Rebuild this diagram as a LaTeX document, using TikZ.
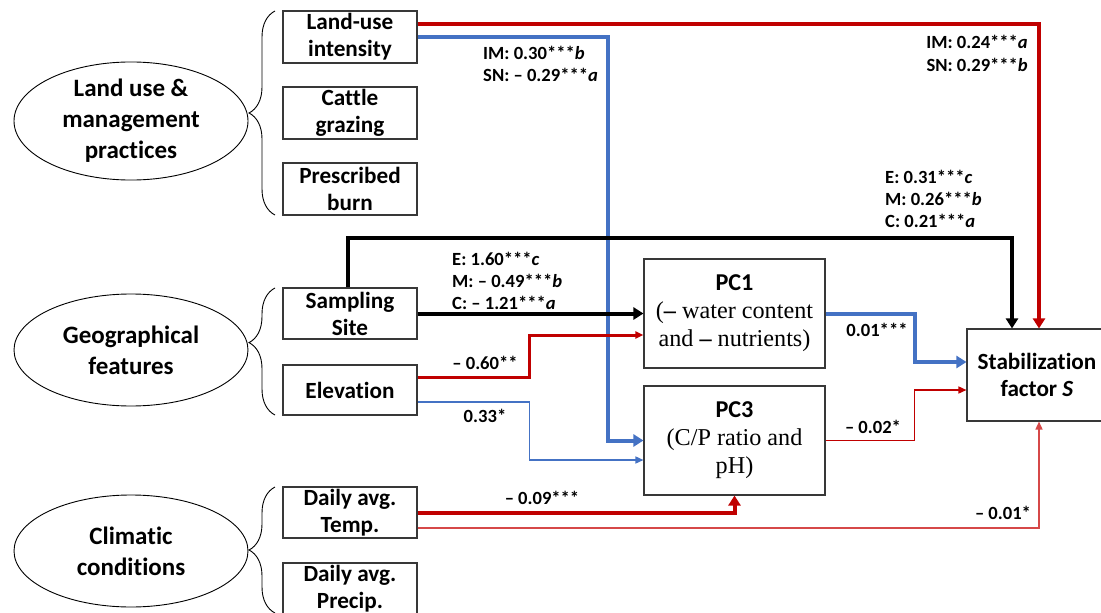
\documentclass[tikz,border=0pt]{standalone}
\usepackage{fontspec}
\setmainfont{Carlito}[Ligatures=NoCommon]
\newfontfamily\pcserif{Liberation Serif}
\usetikzlibrary{arrows.meta,decorations.pathreplacing,shapes.geometric}

\definecolor{pathred}{HTML}{C00000}
\definecolor{pathblue}{HTML}{4472C4}
\definecolor{softred}{HTML}{D64848}
\definecolor{boxline}{HTML}{383838}

\newcommand\varfont{\fontsize{23.2}{27}\selectfont\bfseries}
\newcommand\groupfont{\fontsize{25}{31}\selectfont\bfseries}
\newcommand\coeffont{\fontsize{18.6}{22.3}\selectfont\bfseries}
\newcommand\pcfont{\fontsize{24.2}{28}\selectfont}
\newcommand\bolddash{{\bfseries –}}

\begin{document}
\begin{tikzpicture}[x=1pt,y=-1pt,
  varbox/.style={draw=boxline,line width=1.1pt,minimum width=134pt,minimum height=52pt,
    inner sep=0pt,align=center,font=\varfont},
  pcbox/.style={draw=boxline,line width=1.1pt,minimum width=181pt,minimum height=109pt,
    inner sep=0pt,align=center,font=\pcfont},
  group/.style={ellipse,draw=black,line width=0.9pt,minimum width=234pt,minimum height=112pt,
    inner sep=0pt,align=center,font=\groupfont},
  bracket/.style={draw=black,line width=0.9pt,decorate,decoration={brace,amplitude=26pt}},
  coef/.style={inner sep=0pt,font=\coeffont},
  bigtip/.style={-{Triangle[length=10pt,width=12pt]}},
  smalltip/.style={-{Triangle[length=8pt,width=7pt]}},
  heavy/.style={line width=4pt},
  medium/.style={line width=3pt},
  light/.style={line width=1.5pt}]

\useasboundingbox (0,0) rectangle (1101,613);

% --- factor groups ---
\node[group,minimum height=118pt] (landuse) at (131,121) {Land use \&\\management\\practices};
\node[group] (geo) at (131,350) {Geographical\\features};
\node[group] (clim) at (131,551) {Climatic\\conditions};

\draw[bracket] (275,215) -- (275,11);
\draw[bracket,decoration={brace,amplitude=26pt,aspect=0.57}] (275,415) -- (275,288);
\draw[bracket] (275,613) -- (275,487);

% --- explanatory variables ---
\node[varbox] (lui) at (350,37) {Land-use\\intensity};
\node[varbox] (cattle) at (350,113) {Cattle\\grazing};
\node[varbox] (burn) at (350,189) {Prescribed\\burn};
\node[varbox,minimum height=51pt] (site) at (350,313.5) {Sampling\\Site};
\node[varbox,minimum height=50pt] (elev) at (350,390) {Elevation};
\node[varbox,minimum height=51pt] (temp) at (350,512.5) {Daily avg.\\Temp.};
\node[varbox] (precip) at (350,589) {Daily avg.\\Precip.};

% --- principal components and response ---
\node[pcbox] (pc1) at (734.5,313.5) {{\bfseries PC1}\\{\pcserif (\bolddash{} water content}\\{\pcserif and \bolddash{} nutrients)}};
\node[pcbox] (pc3) at (734.5,440.5) {{\bfseries PC3}\\{\pcserif (C/P ratio and}\\{\pcserif pH)}};
\node[draw=boxline,line width=1.1pt,minimum width=140pt,minimum height=92pt,inner sep=0pt,
  align=center,font=\varfont] (stab) at (1037,375) {Stabilization\\factor \textit{S}};

% --- paths to the stabilization factor and components ---
\draw[pathred,heavy,bigtip] ([yshift=13pt]lui.east) -| ([xshift=2pt]stab.north);
\draw[pathblue,heavy,bigtip] (lui.east) -| ([xshift=-35pt]pc3.west) -- (pc3.west);
\draw[black,heavy,bigtip] ([xshift=-2pt]site.north) -- ++(0,-49) -| ([xshift=-25pt]stab.north);
\draw[black,heavy,bigtip] (site.east) -- (pc1.west |- site.east);
\draw[pathred,medium,smalltip] ([yshift=13pt]elev.east) -- ++(112,0) |- ([yshift=-21.5pt]pc1.west);
\draw[pathblue,light,smalltip] ([yshift=-12pt]elev.east) -- ++(112,0) |- ([yshift=-19.5pt]pc3.west);
\draw[pathblue,heavy,bigtip] (pc1.east) -- ++(89,0) |- ([yshift=13pt]stab.west);
\draw[pathred,light,smalltip] (pc3.east) -- ++(89,0) |- ([yshift=-15pt]stab.west);
\draw[pathred,heavy,bigtip] (temp.east) -| (pc3.south);
\draw[softred,light,smalltip] ([yshift=-15.5pt]temp.east) -| ([xshift=2pt]stab.south);

% --- path coefficients ---
\node[coef,anchor=west,align=left] (c-lui-pc3) at (483,64) {IM: 0.30***\textit{b}\\SN: – 0.29***\textit{a}};
\node[coef,anchor=east,align=right] (c-lui-s) at (1028,53.5) {IM: 0.24***\textit{a}\\SN: 0.29***\textit{b}};
\node[coef,anchor=west,align=left] (c-site-s) at (885,199) {E: 0.31***\textit{c}\\M: 0.26***\textit{b}\\C: 0.21***\textit{a}};
\node[coef,anchor=west,align=left] (c-site-pc1) at (452,281) {E: 1.60***\textit{c}\\M: – 0.49***\textit{b}\\C: – 1.21***\textit{a}};
\node[coef] (c-elev-pc1) at (485,363) {– 0.60**};
\node[coef] (c-elev-pc3) at (485,416) {0.33*};
\node[coef] (c-pc1-s) at (877,330) {0.01***};
\node[coef] (c-pc3-s) at (873,427) {– 0.02*};
\node[coef] (c-temp-pc3) at (542,498) {– 0.09***};
\node[coef] (c-temp-s) at (1003,513) {– 0.01*};
\end{tikzpicture}
\end{document}
